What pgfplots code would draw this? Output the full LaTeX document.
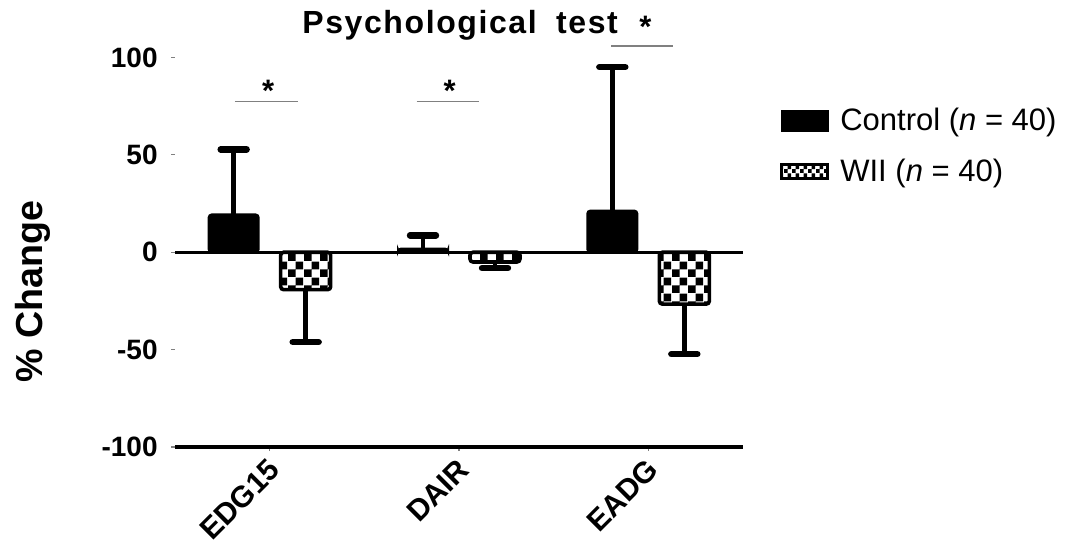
\documentclass[border=0pt]{standalone}
\usepackage{fontspec}
\setmainfont{Liberation Sans}
\usepackage{pgfplots}
\pgfplotsset{compat=1.18}
\usetikzlibrary{patterns}

\pgfdeclarepatternformonly{mychecker}{\pgfpointorigin}{\pgfqpoint{8pt}{8pt}}{\pgfqpoint{8pt}{8pt}}{%
  \pgfpathrectangle{\pgfpointorigin}{\pgfqpoint{4pt}{4pt}}%
  \pgfpathrectangle{\pgfqpoint{4pt}{4pt}}{\pgfqpoint{4pt}{4pt}}%
  \pgfusepath{fill}}
\pgfdeclarepatternformonly{mycheckersmall}{\pgfpointorigin}{\pgfqpoint{4pt}{4pt}}{\pgfqpoint{4pt}{4pt}}{%
  \pgfpathrectangle{\pgfpointorigin}{\pgfqpoint{2pt}{2pt}}%
  \pgfpathrectangle{\pgfqpoint{2pt}{2pt}}{\pgfqpoint{2pt}{2pt}}%
  \pgfusepath{fill}}

\begin{document}
\begin{tikzpicture}
\path[use as bounding box] (0pt,0pt) rectangle (534pt,-274pt);
\begin{axis}[
  at={(87.5pt,-223.5pt)}, anchor=south west,
  scale only axis,
  width=284pt, height=194.75pt,
  ybar, bar width=25pt,
  xmin=-0.5, xmax=2.5,
  ymin=-100, ymax=100,
  clip=false,
  axis lines*=left,
  x axis line style={line width=2pt, black},
  y axis line style={draw=none},
  xtick={0,1,2},
  xticklabels={EDG15,DAIR,EADG},
  ytick={-100,-50,0,50,100},
  tick align=outside,
  major tick length=2pt,
  tick style={gray, line width=0.6pt},
  /pgf/number format/assume math mode=true,
  yticklabel style={font=\bfseries\fontsize{14}{14}\selectfont, inner sep=0pt, anchor=east, xshift=-6.5pt},
  xticklabel style={font=\bfseries\fontsize{15}{15}\selectfont, rotate=45, anchor=east, inner sep=0pt, xshift=-3pt, yshift=-6.5pt},
  ylabel={\% Change},
  every axis y label/.style={at={(axis description cs:-0.233,0.40)}, rotate=90, anchor=base, font=\bfseries\fontsize{18.8}{20}\selectfont},
  title={\addfontfeature{LetterSpace=5}Psychological\hspace{0.28em} test},
  title style={at={(axis description cs:0.502,1.032)}, anchor=base, font=\bfseries\fontsize{16}{18}\selectfont},
  legend style={at={(1.065,0.878)}, anchor=north west, draw=none, fill=none, inner sep=0pt,
    font=\fontsize{15.5}{18}\selectfont, row sep=9.5pt, column sep=4pt,
    nodes={inner sep=1.5pt}},
  legend cell align=left,
]
\addplot[bar shift=-18pt, fill=black, draw=black, line width=1pt, rounded corners=1.5pt,
  legend image code/.code={\fill[black, sharp corners] (0pt,-5pt) rectangle (23pt,5pt);},
  error bars/.cd, y dir=plus, y explicit,
  error bar style={line width=2.3pt, black},
  error mark options={rotate=90, line width=3.2pt, mark size=6.5pt, black, line cap=round},
  ]
  coordinates {(0,19.4) +- (0,33.4) (1,1.9) +- (0,6.8) (2,21.4) +- (0,73.7)};
\addlegendentry{Control (\textit{n} = 40)}
\addplot[bar shift=18pt, draw=black, line width=1.8pt, pattern=mychecker, pattern color=black, rounded corners=1.5pt,
  legend image code/.code={\draw[black, sharp corners, line width=1.5pt, pattern=mycheckersmall] (0pt,-3.5pt) rectangle (23pt,3.5pt);},
  error bars/.cd, y dir=minus, y explicit,
  error bar style={line width=2.3pt, black},
  error mark options={rotate=90, line width=3.2pt, mark size=6.5pt, black, line cap=round},
  ]
  coordinates {(0,-19.2) +- (0,26.9) (1,-5.0) +- (0,3.1) (2,-26.6) +- (0,25.7)};
\addlegendentry{WII (\textit{n} = 40)}
% zero line
\draw[line width=1.5pt, black] (axis cs:-0.5,0) -- (axis cs:2.5,0);
% significance brackets
\draw[gray, line width=0.75pt] (axis cs:-0.184,77.3) -- (axis cs:0.15,77.3);
\draw[gray, line width=0.75pt] (axis cs:-0.184,77.3) ++(0,-2.5pt) -- ++(0,5pt);
\draw[gray, line width=0.75pt] (axis cs:0.15,77.3) ++(0,-2.5pt) -- ++(0,5pt);
\draw[gray, line width=0.75pt] (axis cs:0.776,77.3) -- (axis cs:1.105,77.3);
\draw[gray, line width=0.75pt] (axis cs:0.776,77.3) ++(0,-2.5pt) -- ++(0,5pt);
\draw[gray, line width=0.75pt] (axis cs:1.105,77.3) ++(0,-2.5pt) -- ++(0,5pt);
\draw[gray, line width=0.75pt] (axis cs:1.804,105.9) -- (axis cs:2.132,105.9);
\draw[gray, line width=0.75pt] (axis cs:1.804,105.9) ++(0,-2.5pt) -- ++(0,5pt);
\draw[gray, line width=0.75pt] (axis cs:2.132,105.9) ++(0,-2.5pt) -- ++(0,5pt);
\node[anchor=north, inner sep=0pt, font=\bfseries\fontsize{15.5}{18}\selectfont] at (axis cs:-0.008,88.8) {*};
\node[anchor=north, inner sep=0pt, font=\bfseries\fontsize{15.5}{18}\selectfont] at (axis cs:0.951,88.8) {*};
\node[anchor=north, inner sep=0pt, font=\bfseries\fontsize{15.5}{18}\selectfont] at (axis cs:1.984,121.3) {*};
\end{axis}
\end{tikzpicture}
\end{document}
